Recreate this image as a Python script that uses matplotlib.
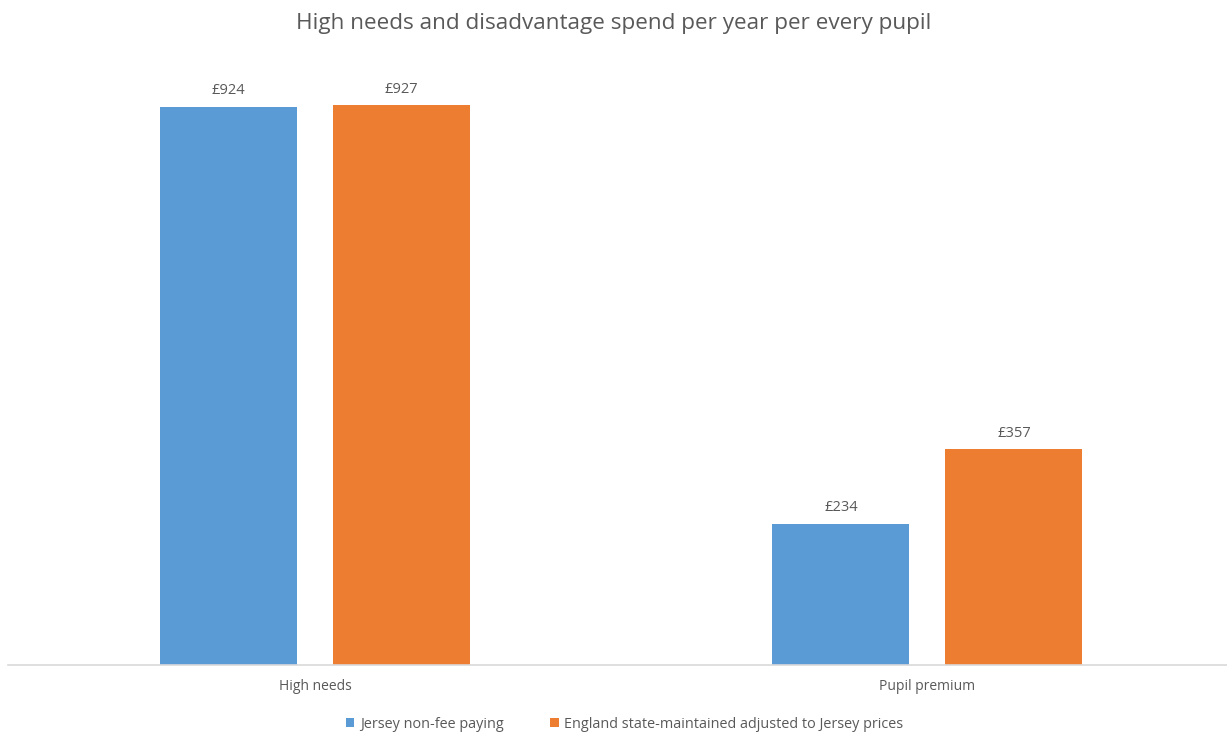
import matplotlib
matplotlib.use("Agg")
import matplotlib.pyplot as plt
import numpy as np

plt.rcParams['font.family'] = ['Open Sans', 'DejaVu Sans']

categories = ["High needs", "Pupil premium"]
series_names = ["Jersey non-fee paying", "England state-maintained adjusted to Jersey prices"]
jersey = [924, 234]
england = [927, 357]
colors = ["#5B9BD5", "#ED7D31"]
text_color = "#595959"

W, H = 1227, 737
fig = plt.figure(figsize=(W / 100, H / 100), dpi=100)
ax = fig.add_axes([8 / W, (H - 665) / H, 1 - 8 / W, (665 - 61) / H])

x = np.arange(len(categories))
bw = 0.2237
off = 0.1412
for vals, name, c, sgn in [(jersey, series_names[0], colors[0], -1), (england, series_names[1], colors[1], 1)]:
    bars = ax.bar(x + sgn * off, vals, width=bw, color=c, label=name, zorder=2)
    for b, v in zip(bars, vals):
        ax.text(b.get_x() + b.get_width() / 2, v + 14, f"£{v}", ha="center", va="bottom",
                fontsize=10.5, color=text_color)

ax.set_xlim(-0.501, 1.489)
ax.set_ylim(0, 1000)
ax.set_yticks([])
ax.set_xticks(x)
ax.set_xticklabels(categories, fontsize=10, color=text_color)
ax.tick_params(axis="x", length=0, pad=10)
for s in ["top", "right", "left"]:
    ax.spines[s].set_visible(False)
ax.spines["bottom"].set_color("#D9D9D9")
ax.spines["bottom"].set_linewidth(1.2)

fig.text(0.5, 1 - 23 / H, "High needs and disadvantage spend per year per every pupil",
         ha="center", va="center", fontsize=16.2, color=text_color)

handles, labels = ax.get_legend_handles_labels()
fig.legend(handles, labels, loc="center", bbox_to_anchor=(0.5 + 11 / W, 1 - 724 / H), ncol=2,
           frameon=False, fontsize=10.4, labelcolor=text_color, handlelength=0.6, handleheight=0.6,
           handletextpad=0.4, columnspacing=3.2)

fig.savefig("out.png", dpi=100)
